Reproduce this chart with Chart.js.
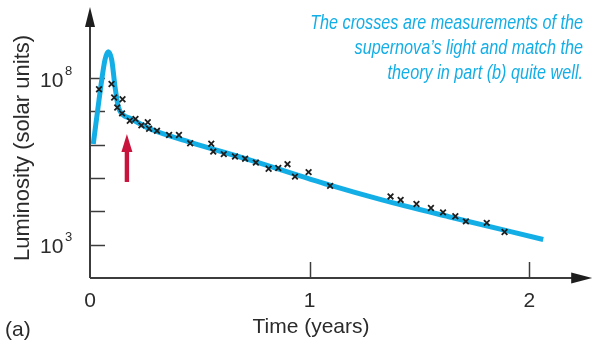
<!DOCTYPE html>
<html>
<head>
<meta charset="utf-8">
<script src="https://cdn.jsdelivr.net/npm/chart.js@4.4.1/dist/chart.umd.min.js"></script>
<style>
  html, body { margin: 0; padding: 0; background: #fff; }
  #wrap { width: 598px; height: 345px; }
</style>
</head>
<body>
<div id="wrap"><canvas id="lightCurve" width="598" height="345"></canvas></div>
<script>
// theory curve: time (years) and luminosity (solar units)
const curveTime = [0.015, 0.041, 0.068, 0.083, 0.099, 0.114, 0.129, 0.151, 0.182, 0.272, 0.454, 0.726, 1.088, 1.329, 1.633, 2.063];
const curveLum  = [1.05e6, 2.19e7, 3.47e8, 6.17e8, 3.47e8, 5.37e7, 1.35e7, 7.76e6, 6.17e6, 3.0e6, 1.2e6, 3.5e5, 6.2e4, 2.2e4, 6.9e3, 1.43e3];

// measurements (the crosses)
const obsTime = [0.041, 0.098, 0.110, 0.148, 0.124, 0.146, 0.181, 0.207, 0.234, 0.263, 0.269, 0.305, 0.360, 0.405, 0.456,
                 0.552, 0.561, 0.609, 0.660, 0.706, 0.755, 0.813, 0.857, 0.899, 0.933, 0.995, 1.093,
                 1.368, 1.414, 1.486, 1.552, 1.607, 1.663, 1.711, 1.806, 1.887];
const obsLum  = [4.6e7, 6.6e7, 2.6e7, 2.3e7, 1.3e7, 8.7e6, 5.2e6, 5.9e6, 3.8e6, 4.7e6, 3.0e6, 2.6e6, 1.95e6, 1.95e6, 1.1e6,
                 1.07e6, 6.2e5, 5.2e5, 4.4e5, 3.8e5, 2.9e5, 1.9e5, 2.0e5, 2.6e5, 1.1e5, 1.5e5, 5.8e4,
                 2.8e4, 2.2e4, 1.66e4, 1.26e4, 9.3e3, 7.1e3, 5.0e3, 4.5e3, 2.4e3];

// ticks
const xTickValues = [0, 1, 2];
const xTickLabels = ['0', '1', '2'];
const yTickValues = [1e3, 1e4, 1e5, 1e6, 1e7, 1e8];
const yLabelValues = [1e3, 1e8];
const yLabelPowers = ['3', '8'];

// red arrow (time, from / to luminosity)
const arrowTime = 0.168;
const arrowLum = [7.6e4, 2.1e6];

const noteLines = [
  'The crosses are measurements of the',
  'supernova\u2019s light and match the',
  'theory in part (b) quite well.'
];

const BLUE = '#14aee6';
const INK = '#2b2b2b';
const FONT = '"Liberation Sans", Arial, Helvetica, sans-serif';

// draws the arrowed axes, inside ticks, labels and the note
const axesPlugin = {
  id: 'axesPlugin',
  beforeDatasetsDraw(chart) {
    const c = chart.ctx;
    const xs = chart.scales.x, ys = chart.scales.y;
    const a = chart.chartArea;
    const x0 = xs.getPixelForValue(0);
    const yBase = a.bottom;
    c.save();
    c.strokeStyle = '#3c3c3c';
    c.fillStyle = '#1e1e1e';
    c.lineWidth = 2;
    // y axis + arrow
    c.beginPath(); c.moveTo(x0, yBase); c.lineTo(x0, a.top + 14); c.stroke();
    c.beginPath(); c.moveTo(x0, a.top - 1); c.lineTo(x0 - 5, a.top + 19); c.lineTo(x0 + 5, a.top + 19); c.closePath(); c.fill();
    // x axis + arrow
    c.beginPath(); c.moveTo(x0, yBase); c.lineTo(a.right - 14, yBase); c.stroke();
    c.beginPath(); c.moveTo(a.right, yBase); c.lineTo(a.right - 21, yBase - 5.5); c.lineTo(a.right - 21, yBase + 5.5); c.closePath(); c.fill();

    c.lineWidth = 1.5;
    yTickValues.forEach(v => {
      const y = Math.round(ys.getPixelForValue(v)) + 0.5;
      c.beginPath(); c.moveTo(x0, y); c.lineTo(x0 + 15, y); c.stroke();
    });
    xTickValues.forEach(v => {
      if (v === 0) return;
      const x = Math.round(xs.getPixelForValue(v)) + 0.5;
      c.beginPath(); c.moveTo(x, yBase); c.lineTo(x, yBase - 16); c.stroke();
    });

    c.fillStyle = INK;
    c.textBaseline = 'middle';
    c.textAlign = 'center';
    c.font = '21px ' + FONT;
    xTickValues.forEach((v, i) => {
      c.fillText(xTickLabels[i], xs.getPixelForValue(v), yBase + 23);
    });
    c.fillText('Time (years)', 311, 327);
    c.textAlign = 'left';
    c.fillText('(a)', 5, 330);

    yLabelValues.forEach((v, i) => {
      const y = ys.getPixelForValue(v);
      c.font = '21px ' + FONT;
      c.textAlign = 'left';
      c.fillText('10', 40, y + 3);
      c.font = '13px ' + FONT;
      c.fillText(yLabelPowers[i], 65, y - 7);
    });

    c.save();
    c.translate(23, 148);
    c.rotate(-Math.PI / 2);
    c.textAlign = 'center';
    c.font = '22px ' + FONT;
    c.fillText('Luminosity (solar units)', 0, 0);
    c.restore();

    // note, squeezed to look like a condensed face
    c.save();
    c.fillStyle = BLUE;
    c.textAlign = 'right';
    c.textBaseline = 'alphabetic';
    c.font = 'italic 20px ' + FONT;
    c.scale(0.81, 1);
    noteLines.forEach((t, i) => c.fillText(t, 583 / 0.81, 29 + i * 25));
    c.restore();

    // red arrow
    const ax = xs.getPixelForValue(arrowTime);
    const yb = ys.getPixelForValue(arrowLum[0]);
    const yt = ys.getPixelForValue(arrowLum[1]);
    c.fillStyle = '#c8143c';
    c.fillRect(ax - 2.2, yt + 15, 4.4, yb - yt - 15);
    c.beginPath(); c.moveTo(ax, yt); c.lineTo(ax - 5.5, yt + 18); c.lineTo(ax + 5.5, yt + 18); c.closePath(); c.fill();
    c.restore();
  }
};

const ctx = document.getElementById('lightCurve').getContext('2d');

new Chart(ctx, {
  type: 'scatter',
  data: {
    datasets: [
      {
        label: 'measurements',
        data: obsTime.map((t, i) => ({ x: t, y: obsLum[i] })),
        pointStyle: 'crossRot',
        pointRadius: 4,
        borderColor: '#1f1f1f',
        backgroundColor: '#1f1f1f',
        borderWidth: 1.8,
        order: 0
      },
      {
        label: 'theory',
        type: 'line',
        data: curveTime.map((t, i) => ({ x: t, y: curveLum[i] })),
        borderColor: BLUE,
        borderWidth: 5,
        pointRadius: 0,
        fill: false,
        cubicInterpolationMode: 'monotone',
        clip: false,
        order: 1
      }
    ]
  },
  options: {
    responsive: false,
    animation: false,
    devicePixelRatio: 1,
    layout: { padding: { left: 90, right: 4, top: 8, bottom: 67 } },
    scales: {
      x: { type: 'linear', min: 0, max: 2.286, display: false },
      y: { type: 'logarithmic', min: 1e2, max: Math.pow(10, 10.1), display: false }
    },
    plugins: {
      legend: { display: false },
      tooltip: { enabled: false }
    }
  },
  plugins: [axesPlugin]
});
</script>
</body>
</html>
